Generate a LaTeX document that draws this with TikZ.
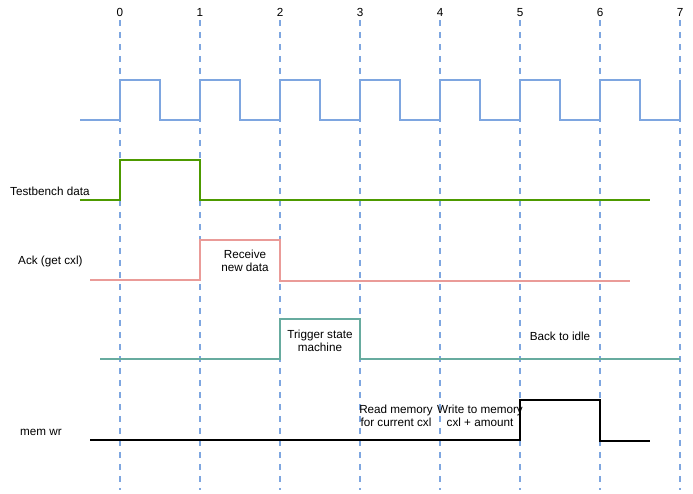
\documentclass[tikz,border=0pt]{standalone}
\usepackage{fontspec}
\setmainfont{Liberation Sans}
\usepackage{tikz}
\usetikzlibrary{positioning, calc}
\definecolor{clkBlue}{HTML}{7EA6E0}
\definecolor{dataGreen}{HTML}{4D9A00}
\definecolor{ackRose}{HTML}{EA9B98}
\definecolor{stateTeal}{HTML}{67AB9F}
\tikzset{
    tick_line/.style={
        draw=clkBlue, line width=1.3pt, dash pattern=on 6pt off 6pt
    },
    wave_clk/.style={draw=clkBlue, line width=1.6pt},
    wave_data/.style={draw=dataGreen, line width=1.8pt},
    wave_ack/.style={draw=ackRose, line width=1.6pt},
    wave_state/.style={draw=stateTeal, line width=1.6pt},
    wave_mem/.style={draw=black, line width=1.8pt},
    sig_lbl/.style={
        font=\fontsize{11.7}{13.5}\selectfont, text=black, inner sep=1pt
    },
    note_lbl/.style={
        font=\fontsize{11.7}{13.5}\selectfont, text=black, align=center, inner sep=1pt
    }
}

\begin{document}
\begin{tikzpicture}[x=1pt, y=-1pt]

    \useasboundingbox (0,0) rectangle (693,493);

    % Time grid: dashed markers and cycle numbers
    \foreach \t in {0,...,7} {
        \draw[tick_line] (120+80*\t, 20) -- (120+80*\t, 490);
        \node[sig_lbl, anchor=base] (tick\t) at (120+80*\t, 16) {\t};
    }

    % Clock
    \draw[wave_clk] (80,120)
        \foreach \t in {0,...,6} {
            -- (120+80*\t,120) -- (120+80*\t,80) -- (160+80*\t,80) -- (160+80*\t,120)
        } -- (680,120) -- (680,80);

    % Testbench data
    \node[sig_lbl, anchor=west] (tb_lbl) at (9,191) {Testbench data};
    \draw[wave_data] (80,200) -- (120,200) -- (120,160) -- (200,160) -- (200,200) -- (650,200);

    % Ack (get cxl)
    \node[sig_lbl, anchor=west] (ack_lbl) at (17,261) {Ack (get cxl)};
    \draw[wave_ack] (90,280) -- (200,280) -- (200,240) -- (280,240) -- (280,281) -- (630,281);
    \node[note_lbl] (rx_note) at (245,261) {Receive\\new data};

    % State machine trigger
    \draw[wave_state] (100,359) -- (280,359) -- (280,319) -- (360,319) -- (360,359) -- (680,359);
    \node[note_lbl] (trig_note) at (320,341) {Trigger state\\machine};
    \node[note_lbl] (idle_note) at (560,336) {Back to idle};

    % mem wr
    \node[sig_lbl, anchor=west] (mem_lbl) at (19,432) {mem wr};
    \draw[wave_mem] (90,440) -- (520,440) -- (520,400) -- (600,400) -- (600,441) -- (650,441);
    \node[note_lbl] (rd_note) at (396,416) {Read memory\\for current cxl};
    \node[note_lbl] (wr_note) at (480,416) {Write to memory\\cxl + amount};

\end{tikzpicture}
\end{document}
